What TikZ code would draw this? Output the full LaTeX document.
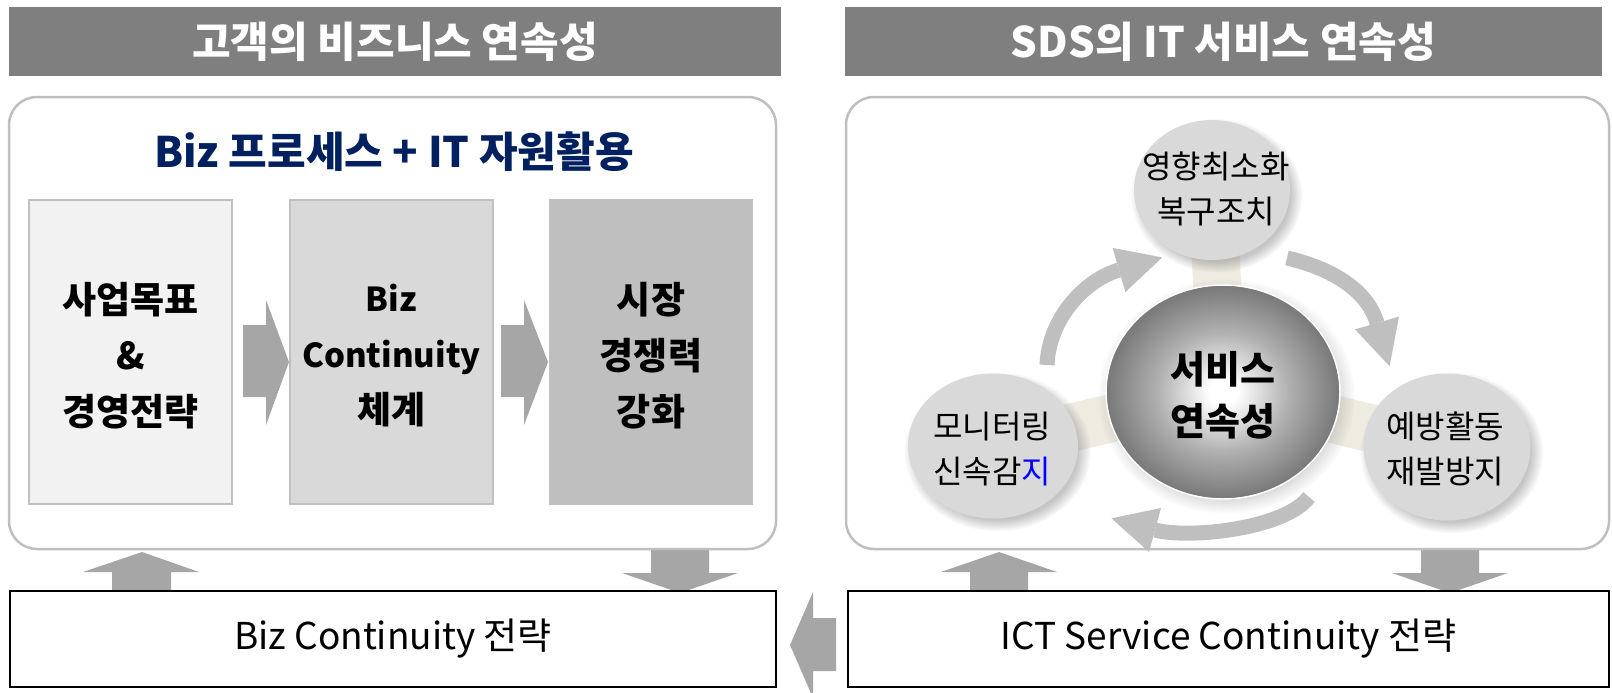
\documentclass[tikz,border=0pt]{standalone}
\usepackage{fontspec}
\setmainfont{Noto Sans CJK KR}
\usetikzlibrary{shapes.geometric,shadows}

\definecolor{bandgray}{HTML}{7F7F7F}
\definecolor{framegray}{HTML}{BFBFBF}
\definecolor{navy}{HTML}{002060}
\definecolor{stageA}{HTML}{F2F2F2}
\definecolor{stageB}{HTML}{D9D9D9}
\definecolor{stageC}{HTML}{BFBFBF}
\definecolor{stageline}{HTML}{C0C0C0}
\definecolor{blockgray}{HTML}{A6A6A6}
\definecolor{loopgray}{HTML}{BFBFBF}
\definecolor{spokebeige}{HTML}{EEECE1}
\definecolor{bubblegray}{HTML}{D9D9D9}
\definecolor{coremid}{HTML}{B0B0B0}
\definecolor{coreedge}{HTML}{787878}
\definecolor{pureblue}{HTML}{0000FF}
\pgfdeclareradialshading{corefill}{\pgfpoint{0bp}{0bp}}{color(0bp)=(white); color(3bp)=(white); color(14bp)=(coremid); color(25bp)=(coreedge); color(50bp)=(coreedge)}

\begin{document}
\begin{tikzpicture}[x=1pt,y=-1pt,
  band/.style={fill=bandgray, inner sep=0pt, outer sep=0pt, text=white,
    font=\fontsize{42}{50}\selectfont\bfseries},
  panel/.style={draw=framegray, line width=2.5pt, rounded corners=28pt, fill=white,
    inner sep=0pt, outer sep=0pt},
  stagebox/.style={draw=stageline, line width=1.2pt, inner sep=0pt, outer sep=0pt,
    minimum height=304pt},
  stagetext/.style={align=center, font=\fontsize{37}{56}\selectfont\bfseries},
  latinpart/.style={font=\fontsize{33}{56}\selectfont\bfseries},
  blockfill/.style={fill=blockgray},
  plan/.style={draw=black, line width=2pt, fill=white, inner sep=0pt, outer sep=0pt,
    minimum height=96pt, font=\fontsize{37}{40}\selectfont},
  bubble/.style={ellipse, fill=bubblegray, inner sep=0pt,
    circular drop shadow={shadow xshift=4pt, shadow yshift=-5pt, opacity=0.45}},
  bubbletext/.style={align=center, font=\fontsize{32}{45}\selectfont},
  core/.style={ellipse, shading=corefill, draw=white, line width=1.5pt, inner sep=0pt,
    minimum width=234pt, minimum height=214pt},
  coretext/.style={align=center, font=\fontsize{38}{52}\selectfont\bfseries},
  spoke/.style={line width=48pt, draw=spokebeige},
  loopbody/.style={draw=loopgray, line width=15pt},
  loophead/.style={fill=loopgray}]

\fill[white] (0,0) rectangle (1612,693);
\useasboundingbox (0,0) rectangle (1612,693);

% ---------- headers ----------
\node[band, minimum width=772pt, minimum height=69pt] (hdrL) at (395,41.5) {고객의 비즈니스 연속성};
\node[band, minimum width=757pt, minimum height=69pt] (hdrR) at (1223.5,41.5) {SDS의 IT 서비스 연속성};

% ---------- flow arrows between panels and strategy boxes ----------
% left: up
\fill[blockfill] (112,593) -- (112,572) -- (83,572) -- (142,552) -- (199,572) -- (171,572) -- (171,593) -- cycle;
% left: down
\fill[blockfill] (651,549) -- (709,549) -- (709,573) -- (738,573) -- (680,593) -- (622,573) -- (651,573) -- cycle;
% right: up
\fill[blockfill] (970,593) -- (970,572) -- (941,572) -- (999,552) -- (1057,572) -- (1028,572) -- (1028,593) -- cycle;
% right: down
\fill[blockfill] (1421,549) -- (1479,549) -- (1479,573) -- (1508,573) -- (1450,593) -- (1392,573) -- (1421,573) -- cycle;

% ---------- panels ----------
\node[panel, minimum width=767pt, minimum height=452pt] (panelL) at (392.5,323) {};
\node[panel, minimum width=763pt, minimum height=452pt] (panelR) at (1227.5,323) {};

% ---------- left panel ----------
\node[text=navy, font=\fontsize{42}{48}\selectfont\bfseries] (motto) at (394,152) {Biz 프로세스 + IT 자원활용};

\node[stagebox, fill=stageA, minimum width=203pt] (goal) at (130.5,352) {};
\node[stagebox, fill=stageB, minimum width=203pt] (bcm) at (391.5,352) {};
\node[stagebox, fill=stageC, minimum width=202pt] (market) at (651,352) {};
\node[stagetext] at (130.5,356) {사업목표\\\&\\경영전략};
\node[stagetext] at (391.5,356) {{\fontsize{33}{56}\selectfont Biz}\\{\fontsize{33}{56}\selectfont Continuity}\\체계};
\node[stagetext] at (651,356) {시장\\경쟁력\\강화};

\fill[blockfill] (243,325) -- (266,325) -- (266,300) -- (289,362) -- (266,425) -- (266,397) -- (243,397) -- cycle;
\fill[blockfill] (501,325) -- (524,325) -- (524,300) -- (548,362) -- (524,425) -- (524,397) -- (501,397) -- cycle;

% ---------- right panel: continuity cycle ----------
\coordinate (cC) at (1223,392);
\coordinate (cT) at (1212,190);
\coordinate (cL) at (993,446);
\coordinate (cR) at (1447,447);
\draw[spoke] (cC) -- (cT);
\draw[spoke] (cC) -- (cL);
\draw[spoke] (cC) -- (cR);

\node[bubble, minimum width=156pt, minimum height=140pt] (recover) at (cT) {};
\node[bubble, minimum width=170pt, minimum height=145pt] (monitor) at (cL) {};
\node[bubble, minimum width=167pt, minimum height=147pt] (prevent) at (cR) {};
\node[core, circular drop shadow={shadow xshift=3pt, shadow yshift=-4pt, opacity=0.3}] (core) at (cC) {};

\node[bubbletext] at (1216,189) {영향최소화\\복구조치};
\node[bubbletext] at (992,449) {모니터링\\신속감\textcolor{pureblue}{지}};
\node[bubbletext] at (1445,449) {예방활동\\재발방지};
\node[coretext] at (1223,395) {서비스\\연속성};

% cycle arrows
\draw[loopbody] (1047,365) .. controls (1049,318) and (1085,280) .. (1119,270);
\fill[loophead] (1112.6,247.9) -- (1162.2,257.4) -- (1125.4,292.1) -- cycle;
\draw[loopbody] (1287,258) .. controls (1330,268) and (1367,289) .. (1377,323);
\fill[loophead] (1399,316.6) -- (1389.6,366.2) -- (1355,329.4) -- cycle;
\draw[loopbody] (1309,497) .. controls (1285,529) and (1189,539) .. (1155,530);
\fill[loophead] (1161,508) -- (1111.5,518.3) -- (1149,552) -- cycle;

% ---------- strategy boxes ----------
\node[plan, minimum width=766pt] (bizplan) at (393,639) {Biz Continuity 전략};
\node[plan, minimum width=761pt] (ictplan) at (1228.5,639) {ICT Service Continuity 전략};
\fill[blockfill] (836,618) -- (836,671) -- (813,671) -- (813,698) -- (790,645) -- (813,592) -- (813,618) -- cycle;

\end{tikzpicture}
\end{document}
